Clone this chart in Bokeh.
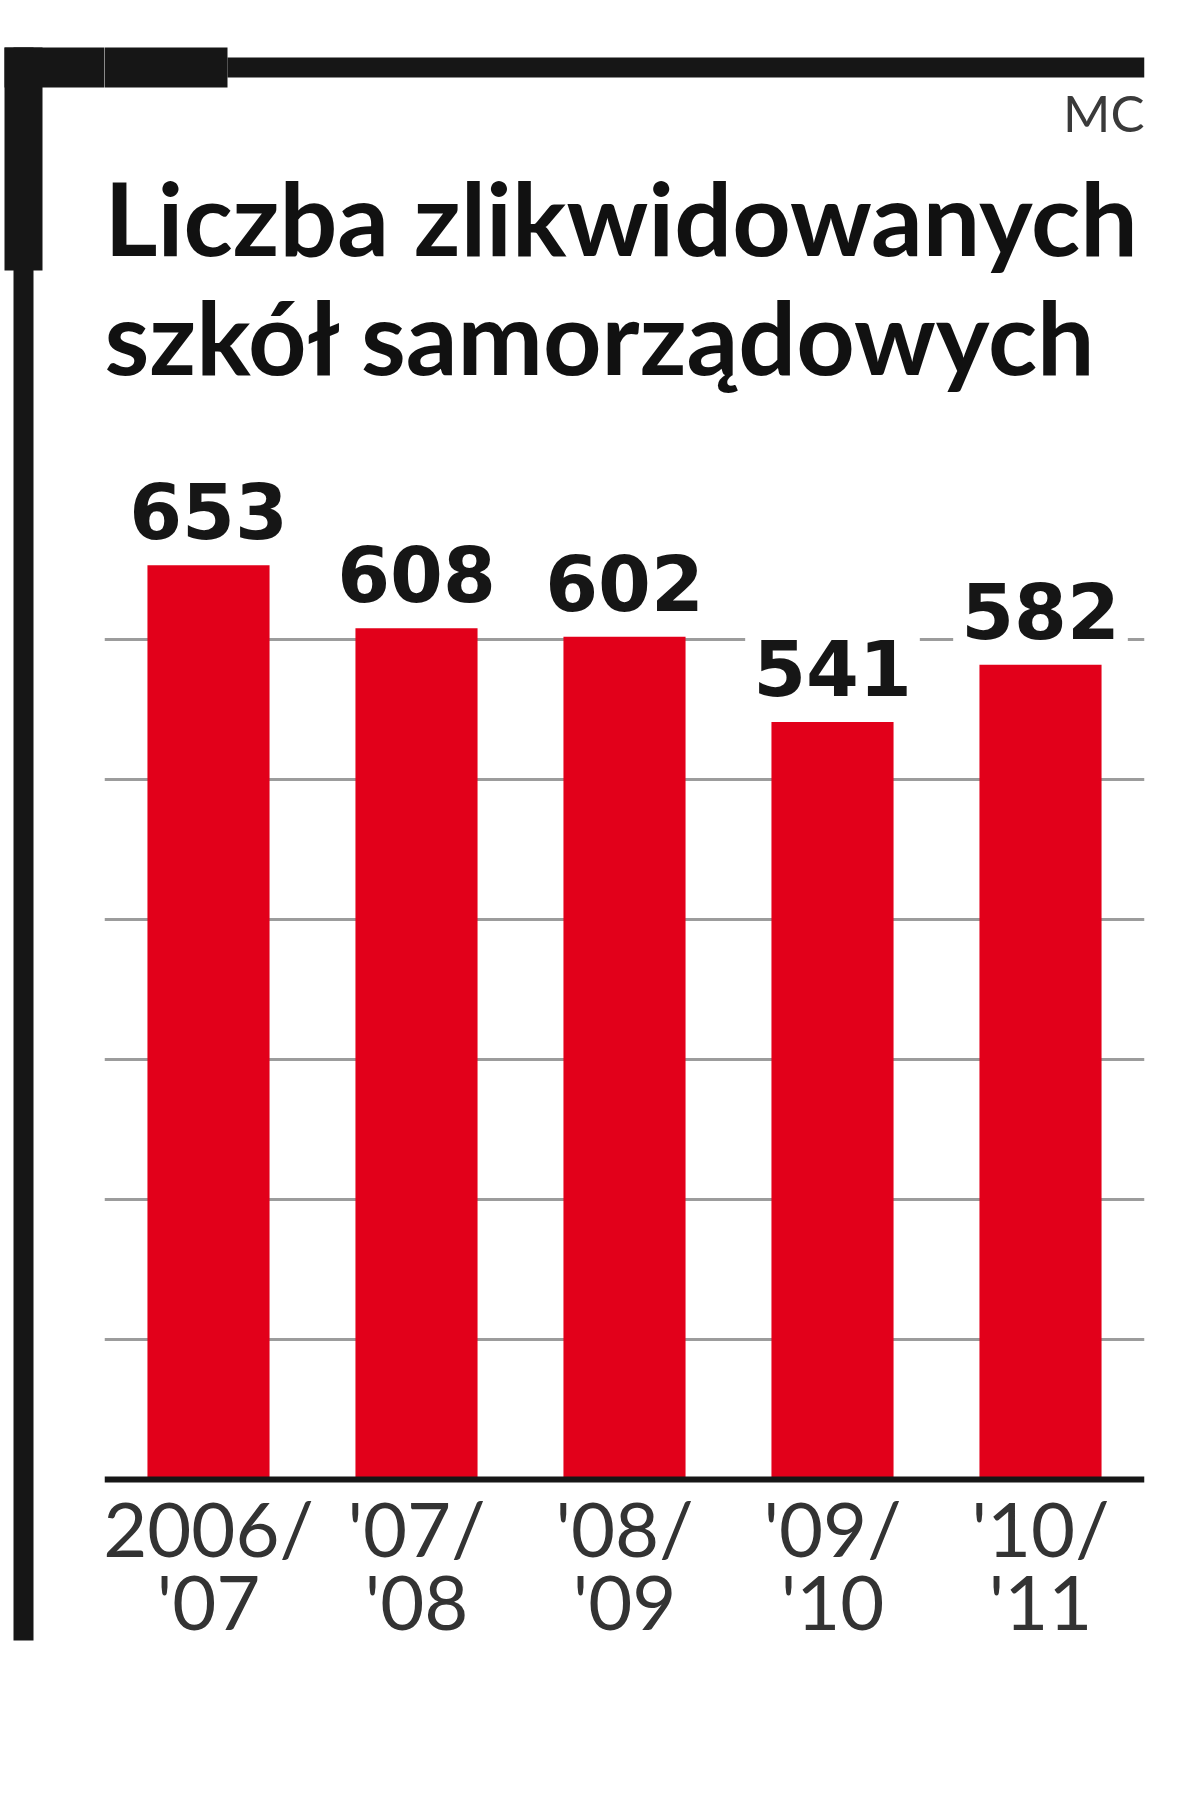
from bokeh.plotting import figure
from bokeh.layouts import row
from bokeh.models import BoxAnnotation, Label, FixedTicker, Range1d, FactorRange, Grid, Span
from bokeh.core.properties import value
from bokeh.embed import file_html
from bokeh.resources import INLINE

# ---- data ----
categories = ["2006/\n'07", "'07/\n'08", "'08/\n'09", "'09/\n'10", "'10/\n'11"]
values = [653, 608, 602, 541, 582]
value_labels = [str(v) for v in values]
grid_ticks = [100, 200, 300, 400, 500, 600]
title_lines = ["Liczba zlikwidowanych", "szkół samorządowych"]
source_note = "MC"

RED = "#e2001a"
INK = "#161616"
H = 1780
BOTTOM = 88   # bottom border shared by both figures (frames are aligned in a row)

# ---- left decorative strip (page-pixel coordinates, y downward) ----
left = figure(width=104, height=H, x_range=Range1d(8, 112), y_range=Range1d(8 + H - BOTTOM, 8),
              output_backend="svg", toolbar_location=None,
              x_axis_location=None, y_axis_location=None,
              min_border_left=0, min_border_right=0, min_border_top=0, min_border_bottom=BOTTOM,
              outline_line_color=None,
              background_fill_color="white", border_fill_color="white")
for g in left.grid:
    g.visible = False
left.quad(left=[12, 12, 21], right=[113, 50, 41], top=[55, 55, 55], bottom=[95, 278, 1648],
          fill_color=INK, line_color=None)

# ---- chart ----
p = figure(
    x_range=FactorRange(factors=categories),
    y_range=Range1d(-152.14, 1056.43),
    width=1080, height=H,
    output_backend="svg", toolbar_location=None,
    x_axis_location=None, y_axis_location=None,
    min_border_left=0, min_border_right=40,
    min_border_top=0, min_border_bottom=BOTTOM,
    outline_line_color=None,
    background_fill_color="white", border_fill_color="white",
)
for g in p.grid:
    g.visible = False
p.add_layout(Grid(dimension=1, ticker=FixedTicker(ticks=grid_ticks),
                  grid_line_color="#9c9c9c", grid_line_width=3))

p.vbar(x=categories, top=values, width=0.587, fill_color=RED, line_color=None)
p.add_layout(Span(location=0, dimension="width", line_color=INK, line_width=6))

# category labels (two lines) under the baseline
p.text(x=categories, y=[0] * len(categories), text=categories,
       text_font=value("Lato"), text_font_size="76px", text_color="#333333",
       text_align="center", text_baseline="top", text_line_height=0.81,
       y_offset=2)

# value labels
p.text(x=categories, y=values, text=value_labels,
       text_font=value("DejaVu Sans"), text_font_style="bold",
       text_font_size="76px", text_color=INK,
       text_align="center", text_baseline="alphabetic",
       y_offset=-54, background_fill_color="white", padding=8)

# top decorative bar (screen units, relative to plot frame)
def box(l, r, b, t):
    p.add_layout(BoxAnnotation(left=l, right=r, bottom=b, top=t,
                               left_units="screen", right_units="screen",
                               bottom_units="screen", top_units="screen",
                               fill_color=INK, fill_alpha=1.0, line_alpha=0))

box(-2, 123, 1605, 1645)
box(123, 1040, 1615, 1635)

# title and source note (screen units, relative to plot frame)
TITLE_FONT = "Lato"
p.add_layout(Label(x=0, y=1476, x_units="screen", y_units="screen",
                   text=title_lines[0], text_font=TITLE_FONT,
                   text_font_style="bold", text_font_size="102px",
                   text_color="#111111", text_baseline="alphabetic"))
p.add_layout(Label(x=0, y=1357, x_units="screen", y_units="screen",
                   text=title_lines[1], text_font=TITLE_FONT,
                   text_font_style="bold", text_font_size="102px",
                   text_color="#111111", text_baseline="alphabetic"))
p.add_layout(Label(x=1040, y=1580, x_units="screen", y_units="screen",
                   text=source_note, text_font=TITLE_FONT,
                   text_font_size="51px", text_color="#3a3a3a",
                   text_align="right", text_baseline="alphabetic"))

layout = row(left, p)
open("out.html", "w").write(file_html(layout, INLINE))
